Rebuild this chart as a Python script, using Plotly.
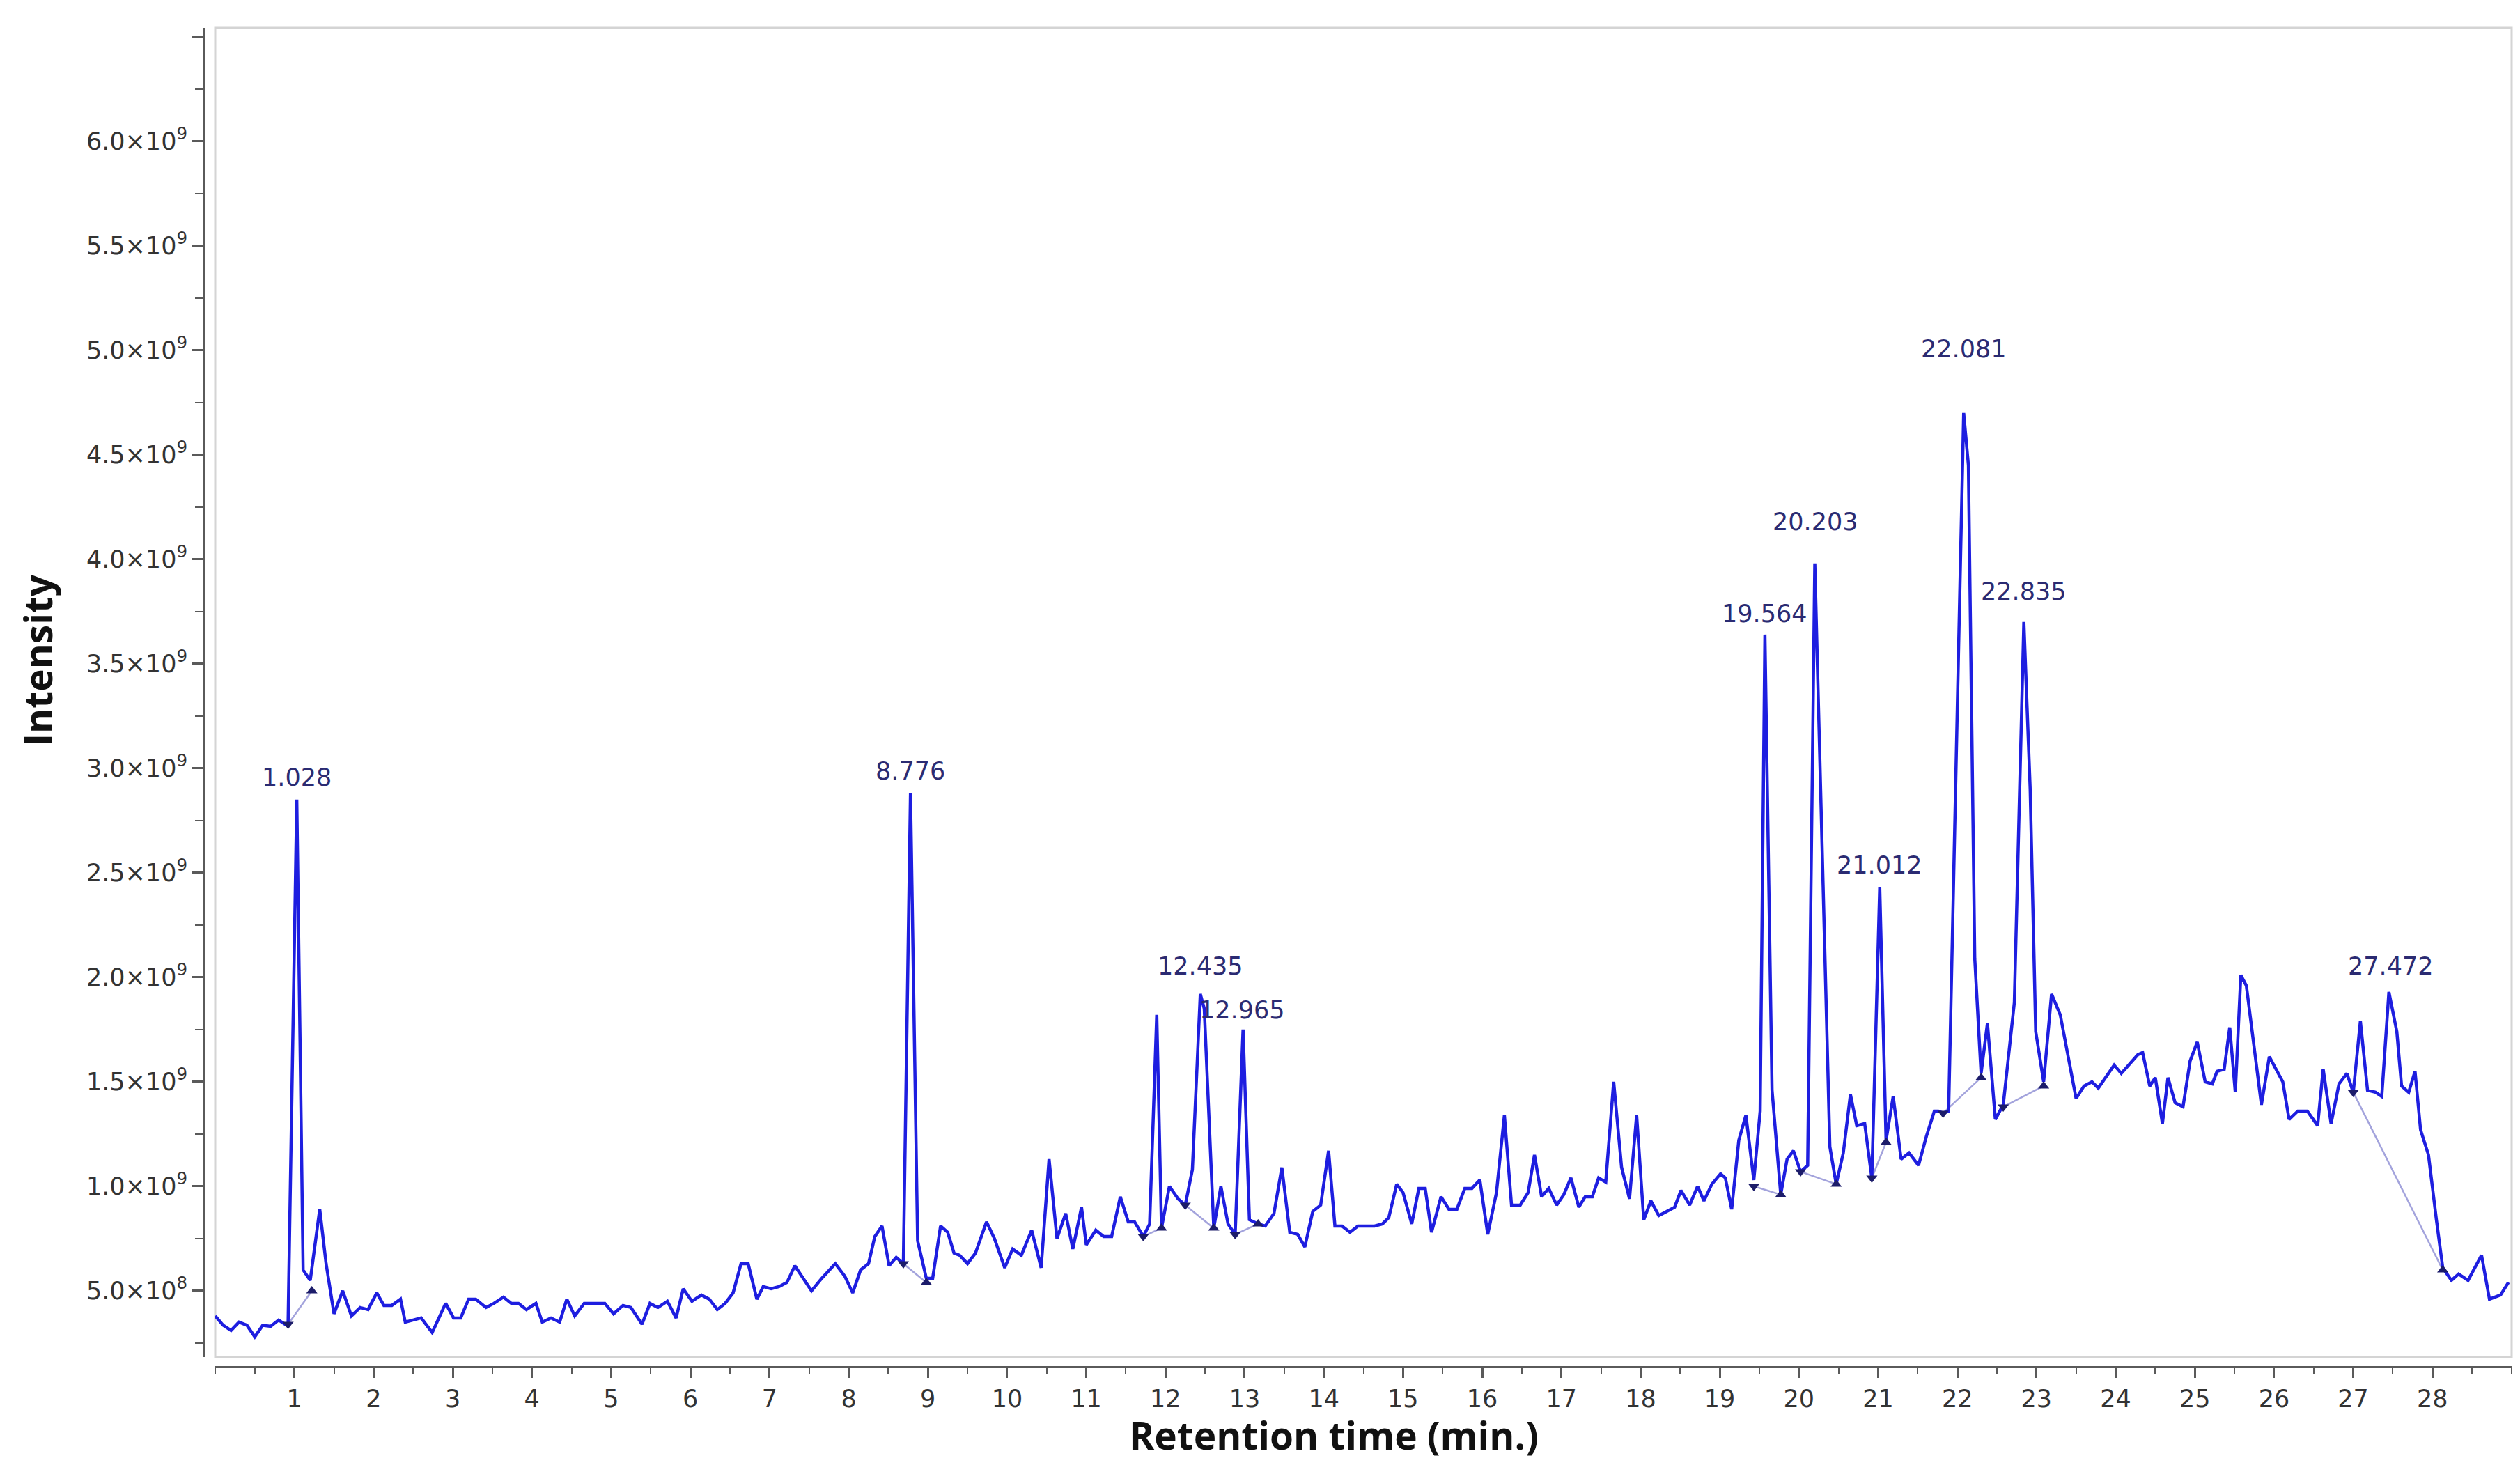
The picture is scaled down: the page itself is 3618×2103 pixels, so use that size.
import plotly.graph_objects as go

# Retention time (min) and intensity (x 1e9)
rt_min = [
    0.00, 0.10, 0.20, 0.30, 0.40, 0.50, 0.60, 0.70, 0.80, 0.90, 0.92, 1.03, 1.11, 1.20, 1.32, 1.40,
    1.50, 1.61, 1.72, 1.83, 1.93, 2.04, 2.13, 2.23, 2.34, 2.40, 2.50, 2.60, 2.74, 2.91, 3.01, 3.10,
    3.20, 3.29, 3.42, 3.52, 3.64, 3.74, 3.83, 3.93, 4.05, 4.13, 4.24, 4.35, 4.44, 4.54, 4.66, 4.78,
    4.92, 5.03, 5.15, 5.25, 5.39, 5.49, 5.59, 5.71, 5.82, 5.91, 6.02, 6.14, 6.24, 6.34, 6.44, 6.54,
    6.64, 6.73, 6.84, 6.92, 7.02, 7.12, 7.22, 7.32, 7.42, 7.53, 7.66, 7.83, 7.95, 8.05, 8.15, 8.25,
    8.33, 8.42, 8.51, 8.60, 8.69, 8.78, 8.87, 8.98, 9.06, 9.16, 9.25, 9.33, 9.40, 9.50, 9.60, 9.74,
    9.84, 9.97, 10.07, 10.18, 10.31, 10.43, 10.53, 10.63, 10.74, 10.83, 10.94, 11.00, 11.12, 11.22,
    11.32, 11.43, 11.53, 11.61, 11.72, 11.80, 11.89, 11.95, 12.05, 12.16, 12.25, 12.34, 12.44, 12.49,
    12.61, 12.70, 12.79, 12.88, 12.98, 13.06, 13.17, 13.26, 13.37, 13.47, 13.57, 13.67, 13.76, 13.86,
    13.96, 14.06, 14.14, 14.23, 14.33, 14.43, 14.53, 14.64, 14.74, 14.82, 14.92, 15.00, 15.11, 15.20,
    15.28, 15.36, 15.48, 15.58, 15.68, 15.78, 15.87, 15.97, 16.07, 16.18, 16.28, 16.37, 16.48, 16.58,
    16.66, 16.75, 16.84, 16.94, 17.03, 17.12, 17.22, 17.30, 17.39, 17.47, 17.56, 17.66, 17.76, 17.86,
    17.95, 18.04, 18.13, 18.23, 18.33, 18.43, 18.51, 18.62, 18.72, 18.80, 18.90, 19.01, 19.07, 19.15,
    19.24, 19.33, 19.43, 19.51, 19.57, 19.66, 19.77, 19.85, 19.93, 20.02, 20.11, 20.20, 20.39, 20.47,
    20.56, 20.65, 20.73, 20.83, 20.92, 21.02, 21.10, 21.19, 21.29, 21.39, 21.51, 21.61, 21.71, 21.76,
    21.82, 21.89, 22.08, 22.14, 22.22, 22.30, 22.38, 22.48, 22.58, 22.72, 22.84, 22.92, 22.99, 23.09,
    23.19, 23.30, 23.40, 23.50, 23.60, 23.70, 23.78, 23.89, 23.98, 24.07, 24.18, 24.28, 24.34, 24.43,
    24.50, 24.59, 24.66, 24.75, 24.85, 24.94, 25.03, 25.13, 25.22, 25.28, 25.37, 25.44, 25.51, 25.58,
    25.65, 25.75, 25.84, 25.94, 26.02, 26.11, 26.19, 26.30, 26.42, 26.55, 26.62, 26.72, 26.82, 26.92,
    27.00, 27.09, 27.18, 27.28, 27.36, 27.45, 27.55, 27.61, 27.70, 27.78, 27.85, 27.95, 28.05, 28.13,
    28.24, 28.33, 28.45, 28.62, 28.72, 28.86, 28.96,
]
intensity_e9 = [
    0.38, 0.335, 0.31, 0.35, 0.335, 0.28, 0.335, 0.33, 0.36, 0.335, 0.34, 2.85, 0.60, 0.55, 0.89, 0.63,
    0.39, 0.50, 0.38, 0.42, 0.41, 0.49, 0.43, 0.43, 0.46, 0.35, 0.36, 0.37, 0.30, 0.44, 0.37, 0.37,
    0.46, 0.46, 0.42, 0.44, 0.47, 0.44, 0.44, 0.41, 0.44, 0.35, 0.37, 0.35, 0.46, 0.38, 0.44, 0.44,
    0.44, 0.39, 0.43, 0.42, 0.34, 0.44, 0.42, 0.45, 0.37, 0.51, 0.45, 0.48, 0.46, 0.41, 0.44, 0.49,
    0.63, 0.63, 0.46, 0.52, 0.51, 0.52, 0.54, 0.62, 0.56, 0.50, 0.56, 0.63, 0.57, 0.49, 0.60, 0.63,
    0.76, 0.81, 0.62, 0.66, 0.63, 2.88, 0.74, 0.56, 0.56, 0.81, 0.78, 0.68, 0.67, 0.63, 0.68, 0.83,
    0.75, 0.61, 0.70, 0.67, 0.79, 0.61, 1.13, 0.75, 0.87, 0.70, 0.90, 0.72, 0.79, 0.76,
    0.76, 0.95, 0.83, 0.83, 0.76, 0.82, 1.82, 0.80, 1.00, 0.94, 0.91, 1.08, 1.92, 1.85,
    0.80, 1.00, 0.82, 0.77, 1.75, 0.84, 0.82, 0.81, 0.87, 1.09, 0.78, 0.77, 0.71, 0.88,
    0.91, 1.17, 0.81, 0.81, 0.78, 0.81, 0.81, 0.81, 0.82, 0.85, 1.01, 0.97, 0.82, 0.99,
    0.99, 0.78, 0.95, 0.89, 0.89, 0.99, 0.99, 1.03, 0.77, 0.97, 1.34, 0.91, 0.91, 0.97,
    1.15, 0.95, 0.99, 0.91, 0.96, 1.04, 0.90, 0.95, 0.95, 1.04, 1.02, 1.50, 1.09, 0.94,
    1.34, 0.84, 0.93, 0.86, 0.88, 0.90, 0.98, 0.91, 1.00, 0.93, 1.01, 1.06, 1.04, 0.89,
    1.22, 1.34, 1.03, 1.36, 3.64, 1.46, 0.96, 1.13, 1.17, 1.07, 1.10, 3.98, 1.19, 1.01,
    1.16, 1.44, 1.29, 1.30, 1.04, 2.43, 1.22, 1.43, 1.13, 1.16, 1.10, 1.24, 1.36, 1.36,
    1.35, 1.36, 4.70, 4.45, 2.09, 1.54, 1.78, 1.32, 1.39, 1.88, 3.70, 2.90, 1.74, 1.50,
    1.92, 1.82, 1.62, 1.42, 1.48, 1.50, 1.47, 1.53, 1.58, 1.54, 1.59, 1.63, 1.64, 1.48,
    1.52, 1.30, 1.52, 1.40, 1.38, 1.60, 1.69, 1.50, 1.49, 1.55, 1.56, 1.76, 1.45, 2.01,
    1.96, 1.65, 1.39, 1.62, 1.56, 1.50, 1.32, 1.36, 1.36, 1.29, 1.56, 1.30, 1.49, 1.54,
    1.45, 1.79, 1.46, 1.45, 1.43, 1.93, 1.74, 1.48, 1.45, 1.55, 1.27, 1.15, 0.84, 0.61,
    0.55, 0.58, 0.55, 0.67, 0.46, 0.48, 0.54,
]

# Integration start (down triangle) and end (up triangle) of each peak
start_rt = [0.92, 8.69, 11.72, 12.25, 12.88, 19.43, 20.02, 20.92, 21.82, 22.58, 27.00]
start_int = [0.34, 0.63, 0.76, 0.91, 0.77, 1.00, 1.07, 1.04, 1.35, 1.38, 1.45]
end_rt = [1.22, 8.98, 11.95, 12.61, 13.17, 19.77, 20.47, 21.10, 22.30, 23.09, 28.13]
end_int = [0.50, 0.54, 0.80, 0.80, 0.82, 0.96, 1.01, 1.21, 1.52, 1.48, 0.60]

# Labelled peaks
peak_labels = ["1.028", "8.776", "12.435", "12.965", "19.564", "20.203", "21.012", "22.081", "22.835", "27.472"]
peak_rt = [1.028, 8.776, 12.435, 12.965, 19.564, 20.203, 21.012, 22.081, 22.835, 27.472]
peak_int = [2.85, 2.88, 1.92, 1.75, 3.64, 3.98, 2.43, 4.70, 3.70, 1.93]
label_gap_px = [32, 32, 40, 28, 30, 60, 32, 92, 44, 37]

# y ticks
ytick_vals = [0.5, 1.0, 1.5, 2.0, 2.5, 3.0, 3.5, 4.0, 4.5, 5.0, 5.5, 6.0, 6.5]
ytick_text = ["5.0×10<sup>8</sup>", "1.0×10<sup>9</sup>", "1.5×10<sup>9</sup>", "2.0×10<sup>9</sup>",
              "2.5×10<sup>9</sup>", "3.0×10<sup>9</sup>", "3.5×10<sup>9</sup>", "4.0×10<sup>9</sup>",
              "4.5×10<sup>9</sup>", "5.0×10<sup>9</sup>", "5.5×10<sup>9</sup>", "6.0×10<sup>9</sup>", ""]

W, H = 3618, 2103
tick_font = dict(family="DejaVu Sans", size=35, color="#333333")
label_color = "#2b2b72"

fig = go.Figure()

# baselines between start and end markers
bx, by = [], []
for a, b, c, d in zip(start_rt, start_int, end_rt, end_int):
    bx += [a, c, None]
    by += [b, d, None]
fig.add_trace(go.Scatter(x=bx, y=by, mode="lines", line=dict(color="#a3a3dc", width=2.5),
                         hoverinfo="skip", showlegend=False))

# chromatogram
fig.add_trace(go.Scatter(x=rt_min, y=intensity_e9, mode="lines",
                         line=dict(color="#1e1ee0", width=4.5), showlegend=False))

fig.add_trace(go.Scatter(x=start_rt, y=start_int, mode="markers",
                         marker=dict(symbol="triangle-down", size=14, color="#1c1c6a"), showlegend=False))
fig.add_trace(go.Scatter(x=end_rt, y=end_int, mode="markers",
                         marker=dict(symbol="triangle-up", size=14, color="#1c1c6a"), showlegend=False))

for txt, t, v, g in zip(peak_labels, peak_rt, peak_int, label_gap_px):
    fig.add_annotation(x=t, y=v, text=txt, showarrow=False, yanchor="middle", yshift=g,
                       font=dict(family="DejaVu Sans", size=35, color=label_color))

# axis titles
fig.add_annotation(xref="paper", yref="paper", x=0.4896, y=-0.0505, text="<b>Retention time (min.)</b>",
                   showarrow=False, xanchor="center", yanchor="middle",
                   font=dict(family="Open Sans", size=55, color="#111111"))
fig.add_annotation(xref="paper", yref="paper", x=-0.0721, y=0.5276, text="<b>Intensity</b>",
                   showarrow=False, textangle=-90, xanchor="center", yanchor="middle",
                   font=dict(family="Open Sans", size=55, color="#111111"))

# light plot frame, set apart from the axis lines
fig.add_shape(type="rect", xref="paper", yref="paper", x0=0.00483, x1=1, y0=0.00728, y1=1,
              line=dict(color="#d4d4d4", width=3), layer="below")

fig.update_layout(
    width=W, height=H,
    margin=dict(l=285, r=20, t=32, b=149),
    plot_bgcolor="white", paper_bgcolor="white",
    xaxis=dict(domain=[0.00483, 1], range=[0, 29], anchor="free", position=0,
               showgrid=False, zeroline=False, showline=True, linecolor="#5a5a5a", linewidth=3,
               tickmode="array", tickvals=list(range(1, 29)), ticks="outside", ticklen=14,
               tickwidth=3, tickcolor="#5a5a5a", tickfont=tick_font,
               minor=dict(dtick=0.5, ticks="outside", ticklen=8, tickwidth=2, tickcolor="#5a5a5a")),
    yaxis=dict(domain=[0.00728, 1], range=[0.183, 6.543], anchor="free", position=0,
               showgrid=False, zeroline=False, showline=True, linecolor="#5a5a5a", linewidth=3,
               tickmode="array", tickvals=ytick_vals, ticktext=ytick_text, ticks="outside", ticklen=16,
               tickwidth=3, tickcolor="#5a5a5a", tickfont=tick_font,
               minor=dict(dtick=0.25, tick0=0, ticks="outside", ticklen=12, tickwidth=2, tickcolor="#5a5a5a")),
)

fig.write_html("out.html")
